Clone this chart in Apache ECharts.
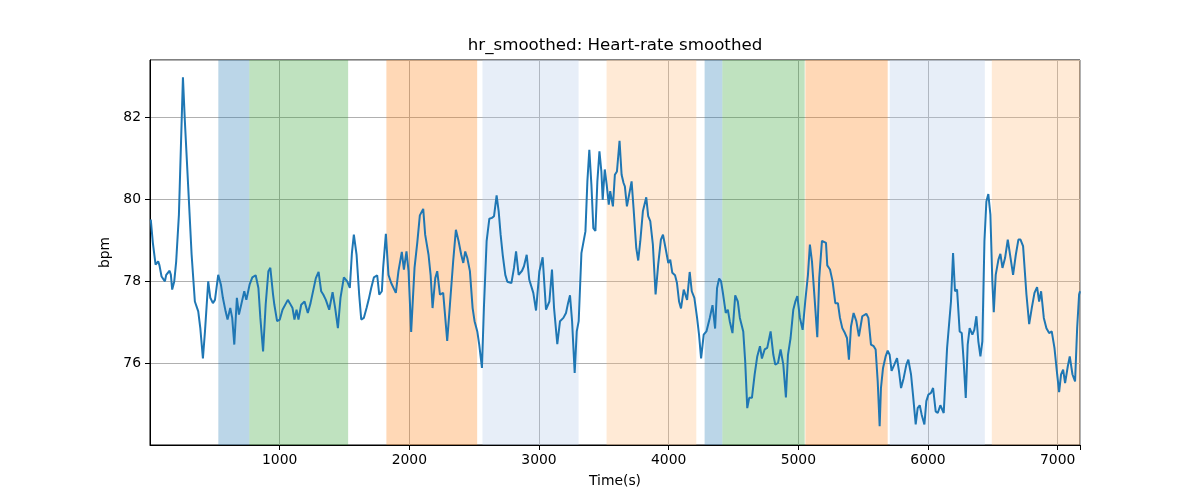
<!DOCTYPE html>
<html>
<head>
<meta charset="utf-8">
<script src="https://cdn.jsdelivr.net/npm/echarts@6/dist/echarts.min.js"></script>
<style>html,body{margin:0;padding:0;background:#fff}#chart{width:1200px;height:500px}</style>
</head>
<body>
<div id="chart"></div>
<script>
// ---- data ----
var timeS = [6,22,43,63,73,89,104,115,125,151,161,171,187,202,223,238,254,269,295,321,346,372,388,408,424,449,465,485,501,526,547,562,583,598,619,634,650,670,686,701,727,743,768,789,815,836,851,872,892,913,928,949,959,980,1001,1022,1037,1063,1078,1099,1114,1130,1145,1166,1192,1217,1238,1253,1279,1300,1320,1336,1356,1382,1408,1428,1449,1469,1495,1521,1541,1557,1572,1593,1613,1629,1649,1670,1686,1706,1727,1752,1768,
1788,1798,1819,1839,1860,1875,1896,1916,1942,1958,1978,1994,2014,2040,2061,2081,2107,2122,2148,2164,2179,2200,2215,2236,2261,2292,2313,2338,2359,2380,2400,2416,2431,2447,2467,2488,2503,2524,2539,2560,2575,2596,2617,2637,2653,2673,2689,2704,2720,2740,2756,2787,2807,2823,2843,2869,2884,2905,2925,2956,2977,3003,3028,3054,3080,3100,3116,3141,3162,3188,3208,3224,3239,3255,3275,3291,3306,3327,3342,3358,3373,3388,3404,3419,3435,3450,3466,3481,3491,3507,3522,3538,
3549,3570,3585,3601,3621,3637,3652,3662,3678,3693,3714,3729,3750,3765,3781,3801,3827,3842,3858,3878,3899,3919,3940,3956,3976,3997,4012,4028,4049,4064,4080,4095,4116,4131,4142,4162,4178,4198,4219,4234,4250,4270,4291,4317,4338,4358,4373,4389,4404,4420,4440,4456,4471,4492,4513,4533,4549,4575,4590,4606,4621,4642,4663,4683,4704,4719,4740,4760,4786,4807,4822,4843,4863,4884,4904,4920,4940,4961,4976,4992,5012,5033,5053,5074,5089,5105,5125,5146,5161,5182,5197,5213,5223,5244,5264,5285,5305,5321,
5339,5359,5375,5390,5406,5426,5447,5467,5493,5508,5524,5540,5560,5581,5596,5612,5627,5637,5653,5673,5689,5704,5719,5740,5761,5776,5792,5812,5833,5848,5869,5884,5905,5920,5936,5951,5972,5987,6003,6023,6039,6059,6075,6095,6121,6147,6162,6177,6193,6208,6224,6244,6260,6275,6291,6306,6321,6342,6357,6373,6388,6404,6419,6435,6450,6465,6481,6496,6507,6522,6543,6558,6574,6594,6615,6630,6656,6677,6697,6713,6733,6759,6780,6800,6821,6841,6857,6872,6893,6913,6934,6954,6975,6996,7011,7026,7042,7057,7078,7093,7114,7134,7150,7165,7172];

var bpm = [79.50,78.93,78.40,78.48,78.38,78.11,78.07,77.99,78.15,78.25,78.15,77.79,77.99,78.48,79.62,81.24,82.97,81.89,80.27,78.64,77.50,77.26,76.85,76.11,76.77,77.99,77.59,77.46,77.54,78.15,77.91,77.59,77.26,77.06,77.34,77.10,76.45,77.59,77.18,77.14,77.75,77.54,77.91,78.09,78.14,77.83,77.10,76.28,77.42,78.24,78.32,77.67,77.42,77.02,77.06,77.30,77.26,77.54,77.46,77.34,77.06,77.30,77.06,77.42,77.50,77.22,77.46,77.46,78.07,78.22,77.75,77.67,77.54,77.30,77.73,77.34,76.85,77.59,78.09,77.99,77.83,78.68,79.13,78.64,77.67,77.06,77.10,77.34,77.54,77.83,78.09,78.14,77.67,
77.75,78.32,79.15,78.15,77.95,77.91,77.71,78.24,78.71,78.28,78.72,78.24,76.76,78.32,78.93,79.60,79.76,79.13,78.64,78.15,77.34,78.07,78.24,77.67,77.71,76.54,77.42,78.48,79.25,78.97,78.64,78.44,78.72,78.56,78.24,77.34,77.02,76.77,76.45,75.88,77.34,78.97,79.52,79.54,79.58,80.09,79.70,79.13,78.64,78.15,77.98,77.95,78.32,78.72,78.15,78.25,78.36,78.64,78.03,77.71,77.28,78.24,78.58,77.30,77.50,78.28,77.34,76.46,77.02,77.10,77.22,77.46,77.65,77.02,75.76,76.77,77.02,78.68,78.72,79.21,80.43,81.20,80.35,79.29,79.22,80.43,81.16,80.67,79.98,80.72,80.35,79.86,
80.19,79.82,80.59,80.67,81.42,80.59,80.39,80.31,79.82,79.82,80.43,79.78,78.80,78.50,78.97,79.70,80.04,79.58,79.46,78.89,77.67,78.40,79.01,79.13,78.80,78.44,78.52,78.20,78.14,77.95,77.50,77.33,77.79,77.83,77.54,78.22,77.75,77.59,77.10,76.69,76.11,76.69,76.77,77.10,77.41,76.84,77.83,78.06,77.99,77.67,77.22,77.30,77.02,76.73,77.65,77.50,77.10,76.77,76.04,74.90,75.15,75.15,75.72,76.16,76.41,76.11,76.33,76.37,76.77,76.20,75.96,76.00,76.33,75.96,75.16,76.20,76.61,77.30,77.49,77.63,77.10,76.81,77.50,78.15,78.89,78.48,77.59,76.63,78.07,78.98,79.01,78.93,78.38,78.28,77.99,77.46,77.46,77.10,
76.85,76.73,76.61,76.08,76.89,77.22,77.02,76.65,77.14,77.10,77.20,77.10,76.45,76.41,76.33,75.55,74.46,75.39,75.88,76.16,76.30,76.20,75.81,75.96,76.12,75.80,75.39,75.63,75.96,76.08,75.72,75.23,74.50,74.90,74.97,74.74,74.50,75.07,75.23,75.27,75.39,74.82,74.78,74.97,74.78,76.37,76.37,77.50,78.68,77.75,77.79,76.77,76.73,76.04,75.15,76.45,76.85,76.69,76.81,77.14,76.53,76.16,76.53,78.97,79.94,80.12,79.62,77.99,77.24,78.15,78.52,78.66,78.32,78.56,79.01,79.05,78.15,78.64,79.01,79.01,78.85,77.67,76.95,77.34,77.71,77.85,77.50,77.75,77.10,76.85,76.73,76.77,76.37,75.72,75.29,75.72,75.84,75.51,75.92,76.16,75.72,75.55,76.85,77.67,77.75];

var bandStart = [527, 766, 1823, 2564, 3521, 4277, 4414, 5054, 5705, 6492];
var bandEnd   = [766, 1528, 2523, 3305, 4213, 4414, 5049, 5689, 6438, 7172];
var bandKind  = ['blue', 'green', 'orange', 'lightblue', 'lightorange', 'blue', 'green', 'orange', 'lightblue', 'lightorange'];

var xTicks = [1000, 2000, 3000, 4000, 5000, 6000, 7000];
var yTicks = [76, 78, 80, 82];

// ---- styling / build ----
var kindColor = {
  blue: 'rgba(31,119,180,0.3)',
  green: 'rgba(44,160,44,0.3)',
  orange: 'rgba(255,127,14,0.3)',
  lightblue: 'rgba(174,199,232,0.3)',
  lightorange: 'rgba(255,187,120,0.3)'
};
var areas = bandStart.map(function (s, i) {
  return [{ xAxis: s, itemStyle: { color: kindColor[bandKind[i]] } }, { xAxis: bandEnd[i] }];
});
var points = timeS.map(function (t, i) { return [t, bpm[i]]; });

var FONT = 'DejaVu Sans';
var chart = echarts.init(document.getElementById('chart'), null, { renderer: 'canvas' });
chart.setOption({
  animation: false,
  backgroundColor: '#ffffff',
  title: {
    text: 'hr_smoothed: Heart-rate smoothed',
    left: 615, top: 37, textAlign: 'center', padding: 0,
    textStyle: { fontFamily: FONT, fontSize: 16.67, fontWeight: 'normal', color: '#000' }
  },
  grid: { left: 150, right: 120, top: 60, bottom: 55, show: true, borderColor: '#000', borderWidth: 1, backgroundColor: 'transparent' },
  xAxis: {
    type: 'value', min: 0, max: 7172, interval: 1000,
    name: 'Time(s)', nameLocation: 'middle', nameGap: 29,
    nameTextStyle: { fontFamily: FONT, fontSize: 13.9, color: '#000' },
    axisLine: { show: true, onZero: false, lineStyle: { color: '#000', width: 1 } },
    axisTick: { show: true, length: 5, lineStyle: { color: '#000' } },
    axisLabel: {
      fontFamily: FONT, fontSize: 13.9, color: '#000', margin: 8, showMinLabel: false,
      formatter: function (v) { return xTicks.indexOf(v) >= 0 ? String(v) : ''; }
    },
    splitLine: { show: true, lineStyle: { color: '#b0b0b0', width: 1 } }
  },
  yAxis: {
    type: 'value', min: 74, max: 83.39, interval: 2,
    name: 'bpm', nameLocation: 'middle', nameGap: 36, nameRotate: 90,
    nameTextStyle: { fontFamily: FONT, fontSize: 13.9, color: '#000' },
    axisLine: { show: true, onZero: false, lineStyle: { color: '#000', width: 1 } },
    axisTick: { show: true, length: 5, lineStyle: { color: '#000' } },
    axisLabel: {
      fontFamily: FONT, fontSize: 13.9, color: '#000', margin: 9, showMinLabel: false, showMaxLabel: false,
      formatter: function (v) { return yTicks.indexOf(v) >= 0 ? String(v) : ''; }
    },
    splitLine: { show: true, lineStyle: { color: '#b0b0b0', width: 1 } }
  },
  series: [{
    type: 'line',
    data: points,
    showSymbol: false,
    smooth: false,
    lineStyle: { color: '#1f77b4', width: 2 },
    itemStyle: { color: '#1f77b4' },
    z: 3,
    markArea: { silent: true, z: 1, data: areas }
  }]
});
</script>
</body>
</html>
